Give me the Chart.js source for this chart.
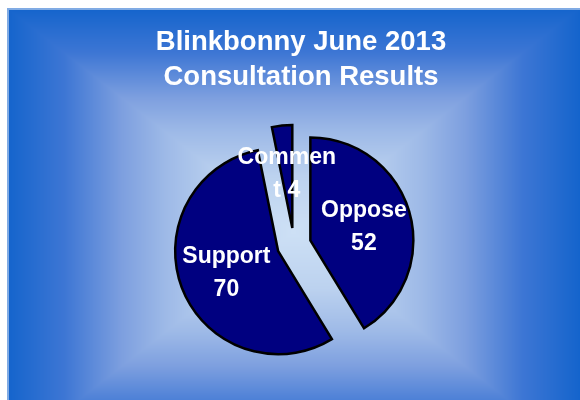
<!DOCTYPE html>
<html>
<head>
<meta charset="utf-8">
<script src="https://cdn.jsdelivr.net/npm/chart.js@4.4.0/dist/chart.umd.min.js"></script>
<style>
  html, body { margin: 0; padding: 0; background: #fff; }
  canvas { display: block; }
</style>
</head>
<body>
<canvas id="chart" width="580" height="400"></canvas>
<script>
const categories = ['Oppose', 'Support', 'Comment'];
const responses = [52, 70, 4];
const titleLines = ['Blinkbonny June 2013', 'Consultation Results'];

const FONT = '"Liberation Sans", Arial, sans-serif';

// gradient stops from the middle of the panel (0) out to its edge (1)
const panelStops = [[0, [205, 224, 245]], [0.25, [188, 210, 239]], [0.45, [157, 185, 231]],
                    [0.6, [125, 159, 223]], [0.8, [61, 118, 212]], [1, [20, 100, 204]]];

function panelColour(t) {
  for (let i = 1; i < panelStops.length; i++) {
    const [t1, c1] = panelStops[i];
    if (t <= t1) {
      const [t0, c0] = panelStops[i - 1];
      const f = (t - t0) / (t1 - t0);
      return c0.map((v, k) => Math.round(v + (c1[k] - v) * f));
    }
  }
  return panelStops[panelStops.length - 1][1];
}

// blue slide panel: rectangular gradient, light in the middle, dark at the edges
const panelBackground = {
  id: 'panelBackground',
  beforeDraw(chart) {
    const ctx = chart.ctx;
    const W = chart.width, H = chart.height;
    const L = 7, T = 8;
    const cx = 293.5, cy = 232, hw = 286.5, hh = 224;

    const off = document.createElement('canvas');
    off.width = W; off.height = H;
    const octx = off.getContext('2d');
    const img = octx.createImageData(W, H);
    for (let y = 0; y < H; y++) {
      for (let x = 0; x < W; x++) {
        const p = (y * W + x) * 4;
        let c = [255, 255, 255];
        if (x >= L && y >= T) {
          const t = Math.min(1, Math.max(Math.abs(x + 0.5 - cx) / hw, Math.abs(y + 0.5 - cy) / hh));
          c = panelColour(t);
        }
        img.data[p] = c[0]; img.data[p + 1] = c[1]; img.data[p + 2] = c[2]; img.data[p + 3] = 255;
      }
    }
    octx.putImageData(img, 0, 0);

    ctx.save();
    ctx.drawImage(off, 0, 0);
    // thin light rule on the top and left edges
    ctx.strokeStyle = '#80abe4';
    ctx.lineWidth = 2;
    ctx.beginPath();
    ctx.moveTo(L + 1, H);
    ctx.lineTo(L + 1, T + 1);
    ctx.lineTo(W, T + 1);
    ctx.stroke();

    ctx.fillStyle = '#fff';
    ctx.font = 'bold 27.5px ' + FONT;
    ctx.textAlign = 'center';
    ctx.textBaseline = 'alphabetic';
    titleLines.forEach((line, i) => ctx.fillText(line, 301, 50 + i * 35));
    ctx.restore();
  }
};

function wrapLabel(ctx, text, maxWidth) {
  const lines = [];
  let line = '';
  for (const word of text.split(' ')) {
    const candidate = line ? line + ' ' + word : word;
    if (ctx.measureText(candidate).width <= maxWidth) { line = candidate; continue; }
    if (line) { lines.push(line); line = ''; }
    let rest = word;
    while (ctx.measureText(rest).width > maxWidth) {
      let n = rest.length;
      while (n > 1 && ctx.measureText(rest.slice(0, n)).width > maxWidth) n--;
      lines.push(rest.slice(0, n));
      rest = rest.slice(n);
    }
    line = rest;
  }
  if (line) lines.push(line);
  return lines;
}

// every slice pulled straight out along its middle angle, then labelled inside
const explodedPie = {
  id: 'explodedPie',
  beforeDatasetDraw(chart, args) {
    const ctx = chart.ctx;
    const arcs = args.meta.data;
    arcs.forEach(arc => {
      const { x, y, startAngle, endAngle, outerRadius } = arc;
      const o = arc.options;
      const mid = (startAngle + endAngle) / 2;
      ctx.save();
      ctx.translate(Math.cos(mid) * o.offset, Math.sin(mid) * o.offset);
      ctx.beginPath();
      ctx.moveTo(x, y);
      ctx.arc(x, y, outerRadius, startAngle, endAngle);
      ctx.closePath();
      ctx.fillStyle = o.backgroundColor;
      ctx.fill();
      ctx.lineJoin = 'miter';
      ctx.lineWidth = o.borderWidth;
      ctx.strokeStyle = o.borderColor;
      ctx.stroke();
      ctx.restore();
    });

    ctx.save();
    ctx.fillStyle = '#fff';
    ctx.font = 'bold 23px ' + FONT;
    ctx.textAlign = 'center';
    ctx.textBaseline = 'alphabetic';
    arcs.forEach((arc, i) => {
      const { x, y, startAngle, endAngle, outerRadius } = arc;
      const mid = (startAngle + endAngle) / 2;
      const r = arc.options.offset + outerRadius * 0.54;
      const lx = x + Math.cos(mid) * r;
      const ly = y + Math.sin(mid) * r;
      const lines = wrapLabel(ctx, categories[i] + ' ' + responses[i], 102);
      const lh = 33;
      const top = ly - (lines.length - 1) * lh / 2 + 8;
      lines.forEach((t, k) => ctx.fillText(t, lx, top + k * lh));
    });
    ctx.restore();
    return false;
  }
};

new Chart(document.getElementById('chart'), {
  type: 'pie',
  data: {
    labels: categories,
    datasets: [{
      data: responses,
      backgroundColor: '#000080',
      borderColor: '#000000',
      borderWidth: 2.5,
      offset: 17,
      radius: 103
    }]
  },
  options: {
    responsive: false,
    animation: false,
    events: [],
    layout: { padding: { left: 20, right: 12, top: 100, bottom: 10 } },
    plugins: {
      legend: { display: false },
      tooltip: { enabled: false },
      title: { display: false }
    }
  },
  plugins: [panelBackground, explodedPie]
});
</script>
</body>
</html>
